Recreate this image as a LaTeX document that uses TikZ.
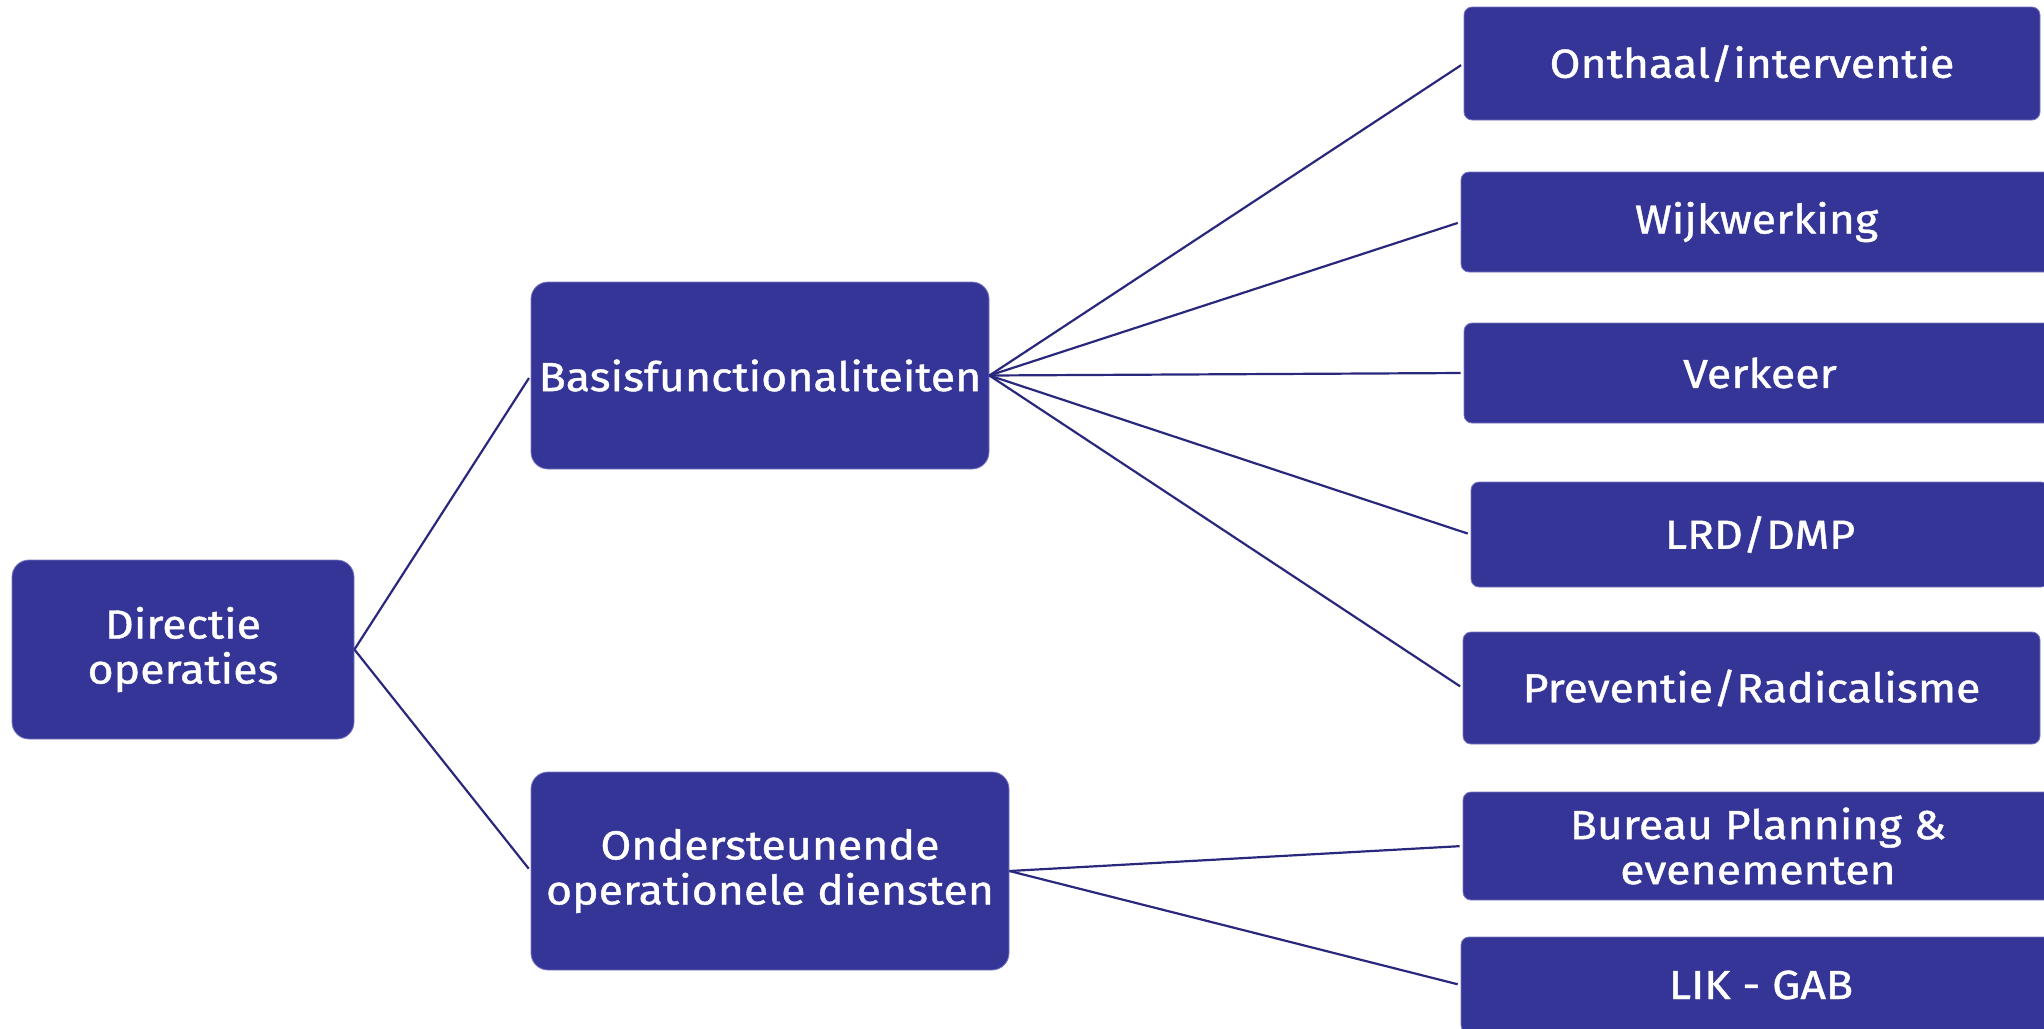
\documentclass[tikz,border=0pt]{standalone}
\usepackage{fontspec}
\setmainfont{Fira Sans}[FakeStretch=1.1, FakeBold=1]
\usepackage{tikz}

\definecolor{boxblue}{RGB}{53,53,151}
\definecolor{linkblue}{RGB}{42,40,124}
\definecolor{rimblue}{RGB}{118,118,196}

\begin{document}
\begin{tikzpicture}[x=0.5pt, y=-0.5pt,
unit/.style={rectangle, fill=boxblue, draw=rimblue, line width=0.4pt,
  text=white, align=center, inner sep=0pt,
  font=\fontsize{20.3}{22.5}\selectfont},
boxsize/.style 2 args={minimum width={#1*0.5pt}, minimum height={#2*0.5pt}},
big/.style={unit, rounded corners=8.5pt},
small/.style={unit, rounded corners=4pt},
link/.style={linkblue, line width=1.1pt, shorten >=1.5pt}]
\useasboundingbox (0,0) rectangle (2044,1028);
\clip (0,0) rectangle (2044,1028);

% left and middle column
\node [big, boxsize={342}{179}] (dir) at (183,649.5) {Directie\\operaties};
\node [big, boxsize={458}{187}] (basis) at (760,375.5) {Basisfunctionaliteiten};
\node [big, boxsize={478}{198}] (onders) at (770,871) {Ondersteunende\\operationele diensten};

% right column
\node [small, boxsize={576}{113}] (b_1) at (1752,63.5) {Onthaal/interventie};
\node [small, boxsize={591}{100}] (b_2) at (1756.5,222) {Wijkwerking};
\node [small, boxsize={592}{100}] (b_3) at (1760,373) {Verkeer};
\node [small, boxsize={578}{105}] (b_4) at (1760,534.5) {LRD/DMP};
\node [small, boxsize={577}{112}] (b_5) at (1751.5,688) {Preventie/Radicalisme};
\node [small, boxsize={590}{108}] (o_1) at (1758,846) {Bureau Planning \&\\evenementen};
\node [small, boxsize={600}{96}] (o_2) at (1761,985) {LIK - GAB};

\path [link]
(dir.east) edge (basis.west)
  edge (onders.west)
(basis.east) edge (b_1.west)
  edge (b_2.west)
  edge (b_3.west)
  edge (b_4.west)
  edge (b_5.west)
(onders.east) edge (o_1.west)
  edge (o_2.west);
\end{tikzpicture}
\end{document}
